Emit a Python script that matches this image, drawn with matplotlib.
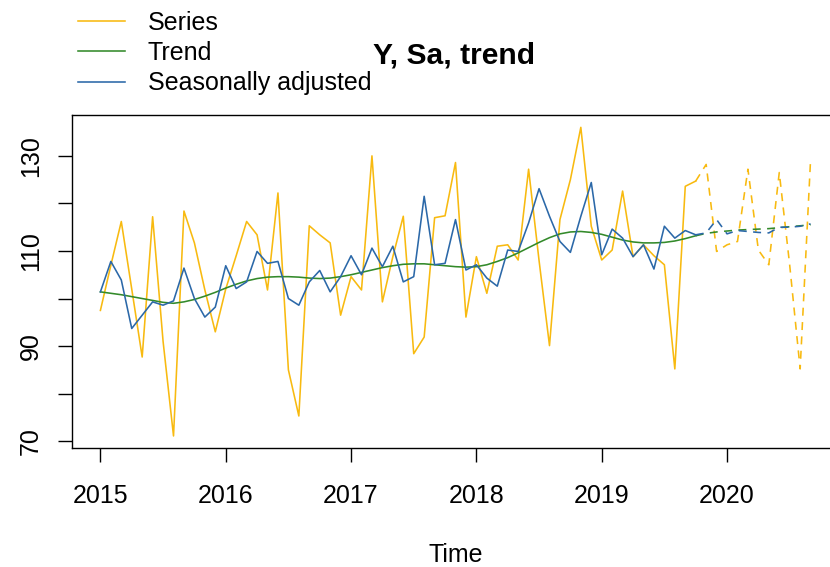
import matplotlib.pyplot as plt
import numpy as np

plt.rcParams['font.family'] = ['Liberation Sans', 'DejaVu Sans']

# monthly data, Jan 2015 - Sep 2020 (last 11 months are forecasts)
start_year = 2015
n_obs = 58

series = [97.5, 107.0, 116.2, 102.0, 87.7, 117.2, 91.0, 71.1, 118.4, 111.7, 101.8, 93.0,
          102.0, 109.0, 116.2, 113.4, 101.8, 122.2, 85.0, 75.3, 115.3, 113.4, 111.7, 96.5,
          104.6, 101.8, 130.0, 99.3, 108.8, 117.3, 88.4, 91.9, 117.0, 117.4, 128.6, 96.1,
          108.8, 101.1, 111.0, 111.3, 108.1, 127.2, 108.0, 90.1, 116.6, 125.0, 136.0, 115.2,
          108.1, 110.2, 122.6, 108.8, 111.3, 109.0, 107.1, 85.2, 123.6, 124.7,
          128.2, 109.9, 111.3, 112.0, 127.2, 110.2, 107.1, 126.5, 107.0, 85.2, 129.3]

trend = [101.4, 101.1, 100.8, 100.4, 100.0, 99.6, 99.2, 99.0, 99.3, 99.8, 100.5, 101.3,
         102.2, 103.0, 103.7, 104.2, 104.5, 104.6, 104.6, 104.5, 104.3, 104.2, 104.3, 104.6,
         105.0, 105.5, 106.0, 106.5, 106.9, 107.2, 107.3, 107.3, 107.1, 106.9, 106.7, 106.6,
         106.7, 107.1, 107.8, 108.6, 109.6, 110.7, 111.8, 112.8, 113.6, 114.0, 114.1, 113.9,
         113.5, 112.9, 112.3, 111.9, 111.7, 111.7, 111.8, 112.1, 112.6, 113.2,
         113.7, 114.0, 114.2, 114.4, 114.5, 114.6, 114.7, 114.9, 115.1, 115.3, 115.5]

sa = [101.4, 107.8, 103.9, 93.7, 96.5, 99.3, 98.6, 99.5, 106.4, 100.0, 96.1, 98.2,
      106.9, 102.1, 103.5, 109.9, 107.4, 107.8, 100.0, 98.6, 103.5, 105.9, 101.4, 104.6,
      109.0, 105.0, 110.6, 106.7, 111.0, 103.5, 104.6, 121.5, 107.1, 107.4, 116.6, 106.0,
      107.1, 104.3, 102.6, 110.2, 109.9, 115.9, 123.1, 117.3, 112.0, 109.7, 117.3, 124.4,
      109.2, 114.6, 112.7, 108.8, 111.3, 106.2, 115.2, 112.7, 114.3, 113.4,
      113.8, 116.6, 113.6, 114.3, 114.1, 113.9, 113.8, 115.0, 115.0, 115.2, 115.7]

labels = ["Series", "Trend", "Seasonally adjusted"]
colors = ["#F8BA10", "#338A2A", "#2B68A8"]

t = start_year + np.arange(len(series)) / 12.0

fig = plt.figure(figsize=(8.3, 5.67), dpi=100)
ax = fig.add_axes([72/830, 1 - 448.3/567, (839 - 72)/830, (448.3 - 115)/567])

handles = []
for y, c, lab in zip([series, trend, sa], colors, labels):
    y = np.array(y)
    h, = ax.plot(t[:n_obs], y[:n_obs], color=c, lw=1.15, label=lab)
    ax.plot(t[n_obs-1:], y[n_obs-1:], color=c, lw=1.15, linestyle=(0, (5, 4)))
    handles.append(h)

allv = np.concatenate([series, trend, sa])
xr = t[-1] - t[0]
yr = allv.max() - allv.min()
ax.set_xlim(t[0] - 0.04*xr, t[-1] + 0.04*xr)
ax.set_ylim(allv.min() - 0.04*yr, allv.max() + 0.04*yr)

ax.set_xticks(range(2015, 2021))
yt = list(range(70, 131, 10))
ax.set_yticks(yt)
ax.set_yticklabels([str(v) if v % 20 == 10 else "" for v in yt])
ax.tick_params(direction='out', length=10, width=1, labelsize=18, color='black')
ax.tick_params(axis='x', pad=15.5)
ax.tick_params(axis='y', pad=11, labelrotation=90)
for lab in ax.get_yticklabels():
    lab.set_va('center')
for s in ax.spines.values():
    s.set_linewidth(1.0)
    s.set_color('black')

ax.set_xlabel("Time", fontsize=18, labelpad=25.5)

fig.text(454/830, 1 - 55/567, "Y, Sa, trend", fontsize=21.6, fontweight='bold',
         ha='center', va='center')

fig.legend(handles, labels, loc='upper left', bbox_to_anchor=(78/830, 1 - 11/567),
           frameon=False, fontsize=18, handlelength=1.88, handletextpad=0.92,
           labelspacing=0.245, borderpad=0, borderaxespad=0)

fig.savefig("out.png", dpi=100)
